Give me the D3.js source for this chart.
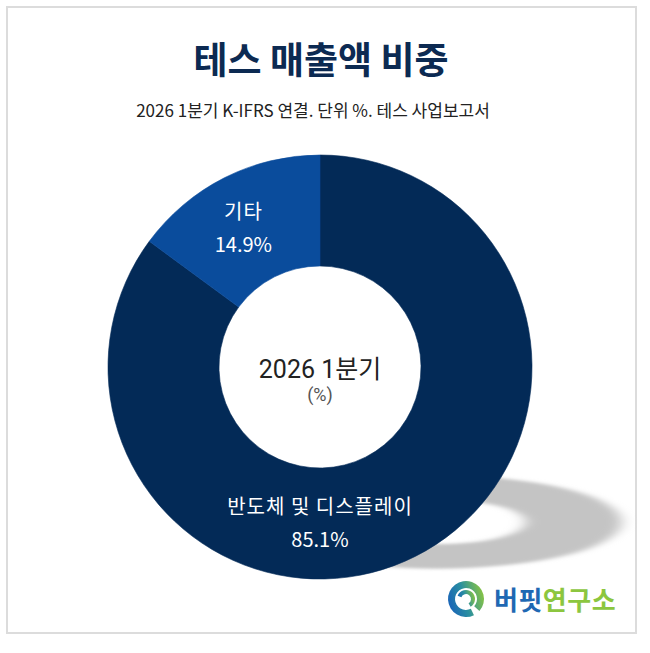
<!DOCTYPE html>
<html>
<head>
<meta charset="utf-8">
<script src="https://cdn.jsdelivr.net/npm/d3@7"></script>
<style>
  html, body { margin: 0; padding: 0; background: #fff; }
</style>
</head>
<body>
<div id="vis"></div>
<script>
// chart data
var categories = ["반도체 및 디스플레이", "기타"];
var shares = [85.1, 14.9];
var colors = ["#032a57", "#0a4c9c"];
var title = "테스 매출액 비중";
var subtitle = "2026 1분기 K-IFRS 연결. 단위 %. 테스 사업보고서";
var centerLabel = ["2026 1분기", "(%)"];

var width = 650, height = 653;
var cx = 320, cy = 367;
var outerR = 212, innerR = 101;
var kr = "'Noto Sans CJK KR', 'Noto Sans', sans-serif";

var svg = d3.select("#vis")
    .append("svg")
    .attr("width", width)
    .attr("height", height)

var defs = svg.append("defs")
defs.append("filter")
    .attr("id", "blur")
    .attr("x", "-40%").attr("y", "-40%")
    .attr("width", "180%").attr("height", "180%")
  .append("feGaussianBlur")
    .attr("stdDeviation", 8)

var grad = defs.append("linearGradient")
    .attr("id", "logoGrad")
    .attr("x1", "0%").attr("y1", "60%")
    .attr("x2", "100%").attr("y2", "30%")
grad.append("stop").attr("offset", "0%").attr("stop-color", "#1a64b8")
grad.append("stop").attr("offset", "45%").attr("stop-color", "#2a8fa0")
grad.append("stop").attr("offset", "100%").attr("stop-color", "#8cc63f")

// frame
svg.append("rect")
    .attr("x", 7).attr("y", 7)
    .attr("width", 629).attr("height", 626)
    .attr("fill", "#fff")
    .attr("stroke", "#dcdcdc")
    .attr("stroke-width", 2)

// titles
svg.append("text")
    .attr("x", 321).attr("y", 74)
    .attr("text-anchor", "middle")
    .style("font", "700 37px " + kr)
    .attr("fill", "#0c2a52")
    .text(title)

svg.append("text")
    .attr("x", 313).attr("y", 117)
    .attr("text-anchor", "middle")
    .style("font", "400 17px " + kr)
    .attr("fill", "#222")
    .text(subtitle)

var pie = d3.pie().sort(null).value(d => d)
var arcs = pie(shares)

var arc = d3.arc().innerRadius(innerR).outerRadius(outerR)

// flattened shadow of the ring
svg.append("g")
    .attr("transform", "translate(437,522) scale(0.87,0.22)")
    .attr("filter", "url(#blur)")
  .selectAll("path")
  .data(pie([100]))
  .join("path")
    .attr("d", arc)
    .attr("fill", "#c4c4c4")

var g = svg.append("g")
    .attr("transform", "translate(" + cx + "," + cy + ")")

g.selectAll("path.slice")
  .data(arcs)
  .join("path")
    .attr("class", "slice")
    .attr("d", arc)
    .attr("fill", (d, i) => colors[i])
    .attr("stroke", (d, i) => colors[i])
    .attr("stroke-width", 0.6)

// slice labels: big slice label sits at the bottom of the ring
function labelPos(d) {
    var c = arc.centroid(d)
    if (d.endAngle - d.startAngle > Math.PI) {
        var r = (innerR + outerR) / 2
        return [0, r - 2]
    }
    return [c[0] - 6, c[1]]
}

var labels = g.selectAll("g.lab")
  .data(arcs)
  .join("g")
    .attr("class", "lab")
    .attr("transform", d => "translate(" + labelPos(d) + ")")

labels.append("text")
    .attr("text-anchor", "middle")
    .attr("y", -8)
    .style("font", "400 20px " + kr)
    .style("letter-spacing", "1px")
    .attr("fill", "#fff")
    .text((d, i) => categories[i])

labels.append("text")
    .attr("text-anchor", "middle")
    .attr("y", 25)
    .style("font", "400 20px " + kr)
    .attr("fill", "#fff")
    .text(d => d.data.toFixed(1) + "%")

// center label
g.append("text")
    .attr("text-anchor", "middle")
    .attr("y", 11)
    .style("font", "400 25px Roboto, " + kr)
    .attr("fill", "#222")
    .text(centerLabel[0])

g.append("text")
    .attr("text-anchor", "middle")
    .attr("y", 34)
    .style("font", "400 18px Roboto, " + kr)
    .attr("fill", "#555")
    .text(centerLabel[1])

// logo
var logo = svg.append("g").attr("transform", "translate(466,599)")
logo.append("path")
    .attr("d", d3.arc().innerRadius(11).outerRadius(18)
        .startAngle(-3.6).endAngle(2.3)())
    .attr("fill", "url(#logoGrad)")
logo.append("path")
    .attr("d", d3.arc().innerRadius(5).outerRadius(9)
        .startAngle(-1.2).endAngle(2.6)())
    .attr("fill", "url(#logoGrad)")

var logoText = svg.append("text")
    .attr("x", 494).attr("y", 610)
    .style("font", "700 26px " + kr)
    .style("letter-spacing", "0.5px")
logoText.append("tspan").attr("fill", "#1f68b3").text("버핏")
logoText.append("tspan").attr("fill", "#8cc63f").text("연구소")
</script>
</body>
</html>
